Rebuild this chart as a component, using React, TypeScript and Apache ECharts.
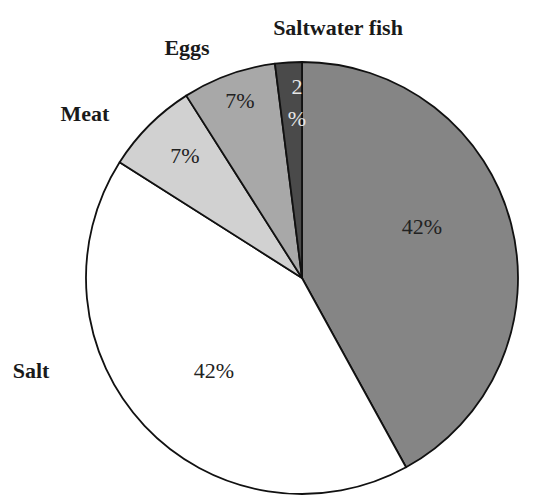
import React, { useEffect, useRef } from "react";
import * as echarts from "echarts";

const categories = ["Milk", "Salt", "Meat", "Eggs", "Saltwater fish"];
const shares = [42, 42, 7, 7, 2];
const valueLabels = ["42%", "42%", "7%", "7%", "2\n%"];

const sliceColors = ["#858585", "#ffffff", "#d1d1d1", "#a8a8a8", "#4a4a4a"];
const valueLabelColors = ["#222", "#222", "#222", "#222", "#e6e6e6"];
const valueLabelPos = [
  [422, 226],
  [214, 370],
  [185, 155],
  [240, 100],
  [297, 102],
];
const nameLabelPos = [
  [517, 112],
  [31, 370],
  [85, 113],
  [187, 47],
  [338, 27],
];

const FONT = "Liberation Serif";

export default function App() {
  const ref = useRef<HTMLDivElement>(null);
  useEffect(() => {
    if (!ref.current) return;
    const chart = echarts.init(ref.current, undefined, { renderer: "svg" });
    chart.setOption({
      animation: false,
      backgroundColor: "#ffffff",
      textStyle: { fontFamily: FONT },
      series: [
        {
          type: "pie",
          center: [302, 278],
          radius: 216,
          startAngle: 90,
          clockwise: true,
          silent: true,
          z: 2,
          data: categories.map((name, i) => ({
            name,
            value: shares[i],
            itemStyle: { color: sliceColors[i] },
            label: {
              color: valueLabelColors[i],
              fontFamily: FONT,
              fontSize: 22,
            },
          })),
          itemStyle: { borderColor: "#111", borderWidth: 1.8 },
          label: {
            show: true,
            position: "inside",
            formatter: (p: any) => valueLabels[p.dataIndex],
            fontFamily: FONT,
            fontSize: 22,
            lineHeight: 32,
            align: "center",
          },
          labelLine: { show: false },
          labelLayout: (p: any) => ({
            x: valueLabelPos[p.dataIndex][0],
            y: valueLabelPos[p.dataIndex][1],
            align: "center",
            verticalAlign: "middle",
          }),
        },
        {
          type: "pie",
          center: [302, 278],
          radius: 216,
          startAngle: 90,
          clockwise: true,
          silent: true,
          z: 1,
          data: categories.map((name, i) => ({ name, value: shares[i] })),
          itemStyle: { color: "transparent", borderWidth: 0 },
          label: {
            show: true,
            position: "outside",
            formatter: "{b}",
            fontFamily: FONT,
            fontSize: 22,
            fontWeight: "bold",
            color: "#1a1a1a",
          },
          labelLine: { show: false },
          labelLayout: (p: any) => ({
            x: nameLabelPos[p.dataIndex][0],
            y: nameLabelPos[p.dataIndex][1],
            align: "center",
            verticalAlign: "middle",
          }),
        },
      ],
    });
    return () => chart.dispose();
  }, []);
  return (
    <div
      ref={ref}
      style={{ position: "fixed", left: 0, top: 0, width: 544, height: 495 }}
    />
  );
}
